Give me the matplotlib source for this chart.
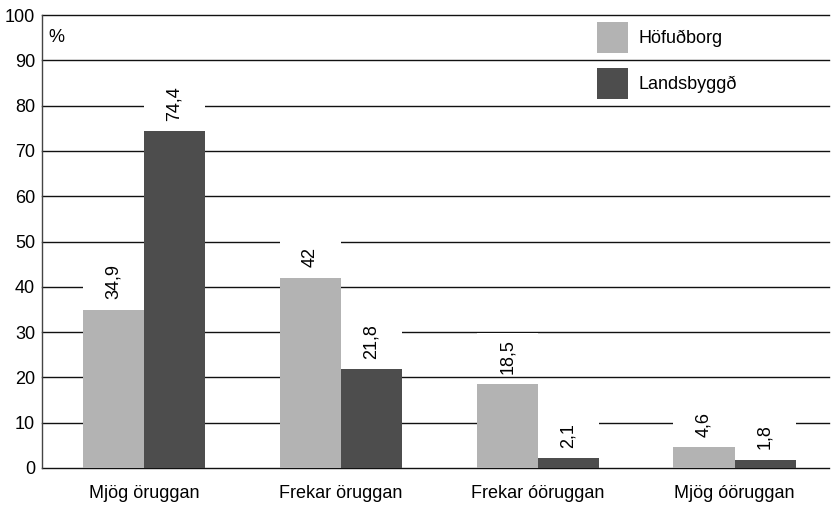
import matplotlib
matplotlib.use("Agg")
import matplotlib.pyplot as plt
from matplotlib.patches import Rectangle
import numpy as np

categories = ["Mjög öruggan", "Frekar öruggan", "Frekar óöruggan", "Mjög óöruggan"]
series_names = ["Höfuðborg", "Landsbyggð"]
hofudborg = [34.9, 42.0, 18.5, 4.6]
landsbyggd = [74.4, 21.8, 2.1, 1.8]
labels_h = ["34,9", "42", "18,5", "4,6"]
labels_l = ["74,4", "21,8", "2,1", "1,8"]
yticks = [0, 10, 20, 30, 40, 50, 60, 70, 80, 90, 100]

colors = ["#b3b3b3", "#4d4d4d"]
FS = 13

plt.rcParams["font.family"] = ["Liberation Sans", "DejaVu Sans"]
fig = plt.figure(figsize=(8.31, 5.07), dpi=100)
AX_L, AX_R, AX_T, AX_B = 42, 829, 15, 468
ax = fig.add_axes([AX_L / 831, 1 - AX_B / 507, (AX_R - AX_L) / 831, (AX_B - AX_T) / 507])

x = np.arange(len(categories))
w = 0.31
b1 = ax.bar(x - w / 2, hofudborg, w, color=colors[0], zorder=2, label=series_names[0])
b2 = ax.bar(x + w / 2, landsbyggd, w, color=colors[1], zorder=2, label=series_names[1])

ax.set_xlim(-0.518, 3.48)
ax.set_ylim(0, 100)
ax.set_yticks(yticks)
ax.set_xticks(x)
ax.set_xticklabels(categories, fontsize=FS)
ax.tick_params(axis="y", length=0, pad=5, labelsize=FS)
ax.tick_params(axis="x", length=0, pad=12)
ax.yaxis.grid(True, color="#111111", linewidth=1.0)
for gl in ax.get_ygridlines():
    gl.set_clip_on(False)
ax.set_axisbelow(True)
for s in ["top", "right", "bottom"]:
    ax.spines[s].set_visible(False)
ax.spines["left"].set_color("#444444")
ax.spines["left"].set_linewidth(1.0)

ax.text(0.008, 0.95, "%", transform=ax.transAxes, fontsize=FS, va="center", ha="left")

texts = []
for bars, labs in ((b1, labels_h), (b2, labels_l)):
    for bar, lab in zip(bars, labs):
        cx = bar.get_x() + bar.get_width() / 2
        t = ax.annotate(lab, (cx, bar.get_height()), xytext=(0, 7.5), textcoords="offset points",
                        rotation=90, ha="center", va="bottom", fontsize=FS, zorder=4)
        texts.append((t, bar))

fig.canvas.draw()
r = fig.canvas.get_renderer()
inv = ax.transData.inverted()
for t, bar in texts:
    bb = t.get_window_extent(r)
    top = inv.transform((0, bb.y1 + 6.3))[1]
    bot = inv.transform((0, bb.y0 - 2))[1]
    ax.add_patch(Rectangle((bar.get_x(), bot), bar.get_width(),
                           top - bot, facecolor="white", edgecolor="none", zorder=1))

# legend drawn in axes coordinates
def px2ax(px, py):
    return (px - AX_L) / (AX_R - AX_L), (AX_B - py) / (AX_B - AX_T)

for i, (name, col) in enumerate(zip(series_names, colors)):
    y_top = 22 + i * 46
    x0, y0 = px2ax(597, y_top + 31)
    x1, y1 = px2ax(628, y_top)
    ax.add_patch(Rectangle((x0, y0), x1 - x0, y1 - y0, transform=ax.transAxes,
                           facecolor=col, edgecolor="none", zorder=3, clip_on=False))
    tx, ty = px2ax(639, y_top + 16)
    ax.text(tx, ty, name, transform=ax.transAxes, fontsize=FS, va="center", ha="left", zorder=4)

fig.savefig("out.png", dpi=100)
